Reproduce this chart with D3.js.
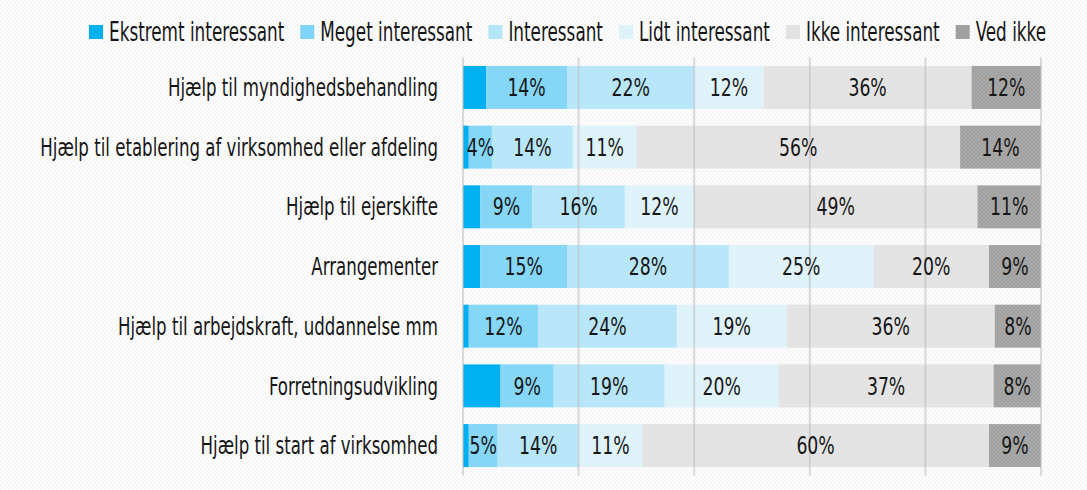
<!DOCTYPE html>
<html lang="da">
<head>
<meta charset="utf-8">
<title>Interesse for tilbud</title>
<script src="https://cdn.jsdelivr.net/npm/d3@7"></script>
<style>
  html, body { margin: 0; padding: 0; background: #fff; }
  svg text { font-family: "DejaVu Sans Condensed", "DejaVu Sans", sans-serif; fill: #161616; }
</style>
</head>
<body>
<div id="chart"></div>
<script>
// data
var categories = [
  "Hjælp til myndighedsbehandling",
  "Hjælp til etablering af virksomhed eller afdeling",
  "Hjælp til ejerskifte",
  "Arrangementer",
  "Hjælp til arbejdskraft, uddannelse mm",
  "Forretningsudvikling",
  "Hjælp til start af virksomhed"
];
var seriesNames = ["Ekstremt interessant", "Meget interessant", "Interessant", "Lidt interessant", "Ikke interessant", "Ved ikke"];
var ekstremt    = [4, 1, 3, 3, 1, 6.5, 1];
var meget       = [14, 4, 9, 15, 12, 9.2, 5];
var interessant = [22, 14, 16, 28, 24, 19.2, 14];
var lidt        = [12, 11, 12, 25, 19, 19.7, 11];
var ikke        = [36, 56, 49, 20, 36, 37.2, 60];
var vedIkke     = [12, 14, 11, 9, 8, 8.2, 9];
var gridTicks   = [0, 20, 40, 60, 80, 100];

var colors = ["#00b0f0", "#80d4f6", "#b5e5f8", "#def2fa", "#e2e2e2", "#a0a0a0"];

var width = 1087, height = 490;
// horizontal squeeze so the text looks like a narrow face
var sxCat = 0.77, sxVal = 0.8, sxLeg = 0.72;

var rows = categories.map(function (c, i) {
  return {cat: c, s0: ekstremt[i], s1: meget[i], s2: interessant[i], s3: lidt[i], s4: ikke[i], s5: vedIkke[i]};
});
var keys = ["s0", "s1", "s2", "s3", "s4", "s5"];
var stacked = d3.stack().keys(keys)(rows);

var svg = d3.select("#chart").append("svg")
  .attr("width", width).attr("height", height);

var defs = svg.append("defs");
var bgPat = defs.append("pattern").attr("id", "bgpat")
  .attr("width", 4).attr("height", 4).attr("patternUnits", "userSpaceOnUse");
bgPat.append("rect").attr("width", 4).attr("height", 4).attr("fill", "#fdfdfd");
bgPat.append("rect").attr("width", 2).attr("height", 2).attr("fill", "#f6f6f6");
bgPat.append("rect").attr("x", 2).attr("y", 2).attr("width", 2).attr("height", 2).attr("fill", "#f6f6f6");

var hatch = defs.append("pattern").attr("id", "hatch")
  .attr("width", 4).attr("height", 4).attr("patternUnits", "userSpaceOnUse");
hatch.append("path").attr("d", "M0,4 L4,0 M0,0 L4,4")
  .attr("stroke", "#ffffff").attr("stroke-opacity", 0.12).attr("stroke-width", 0.8);

svg.append("rect").attr("width", width).attr("height", height).attr("fill", "url(#bgpat)");

var x = d3.scaleLinear().domain([0, 100]).range([463, 1041]);
var y = d3.scaleBand().domain(categories).range([57.6, 475.4]).paddingInner(0.28).paddingOuter(0.14);

// bars
var layer = svg.append("g").selectAll("g")
  .data(stacked).enter().append("g")
  .attr("fill", function (d, i) { return colors[i]; });

layer.selectAll("rect")
  .data(function (d) { return d; })
  .enter().append("rect")
  .attr("x", function (d) { return x(d[0]); })
  .attr("y", function (d) { return y(d.data.cat); })
  .attr("width", function (d) { return x(d[1]) - x(d[0]); })
  .attr("height", y.bandwidth());

// texture over the bars
svg.append("g").selectAll("rect")
  .data(rows).enter().append("rect")
  .attr("x", function (d) { return x(d.s0); })
  .attr("y", function (d) { return y(d.cat); })
  .attr("width", function (d) { return x(100) - x(d.s0); })
  .attr("height", y.bandwidth())
  .attr("fill", "url(#hatch)");

// gridlines sit on top, faint
svg.append("g").selectAll("line")
  .data(gridTicks).enter().append("line")
  .attr("x1", function (d) { return x(d); })
  .attr("x2", function (d) { return x(d); })
  .attr("y1", y.range()[0])
  .attr("y2", y.range()[1])
  .attr("stroke", "#bdbdbd")
  .attr("stroke-opacity", 0.55)
  .attr("stroke-width", 2);

// value labels (not on the first series)
var labelG = svg.append("g");
stacked.forEach(function (s, si) {
  if (si === 0) return;
  s.forEach(function (d) {
    var v = d[1] - d[0];
    var cx = (x(d[0]) + x(d[1])) / 2;
    var cy = y(d.data.cat) + y.bandwidth() / 2;
    labelG.append("text")
      .attr("transform", "translate(" + cx + "," + cy + ") scale(" + sxVal + ",1)")
      .attr("text-anchor", "middle")
      .attr("dy", "0.36em")
      .style("font-size", "24px")
      .text(Math.round(v) + "%");
  });
});

// category labels
svg.append("g").selectAll("text")
  .data(categories).enter().append("text")
  .attr("transform", function (d) {
    return "translate(438," + (y(d) + y.bandwidth() / 2) + ") scale(" + sxCat + ",1)";
  })
  .attr("text-anchor", "end")
  .attr("dy", "0.36em")
  .style("font-size", "24px")
  .text(function (d) { return d; });

// legend, laid out left to right
var legend = svg.append("g");
var lx = 89, ly = 32;
seriesNames.forEach(function (name, i) {
  legend.append("rect")
    .attr("x", lx).attr("y", ly - 7)
    .attr("width", 14).attr("height", 14)
    .attr("fill", colors[i]);
  var t = legend.append("text")
    .attr("transform", "translate(" + (lx + 20) + "," + ly + ") scale(" + sxLeg + ",1)")
    .attr("dy", "0.36em")
    .style("font-size", "26px")
    .text(name);
  var w = t.node().getComputedTextLength() * sxLeg;
  lx = lx + 20 + w + 16;
});
</script>
</body>
</html>
